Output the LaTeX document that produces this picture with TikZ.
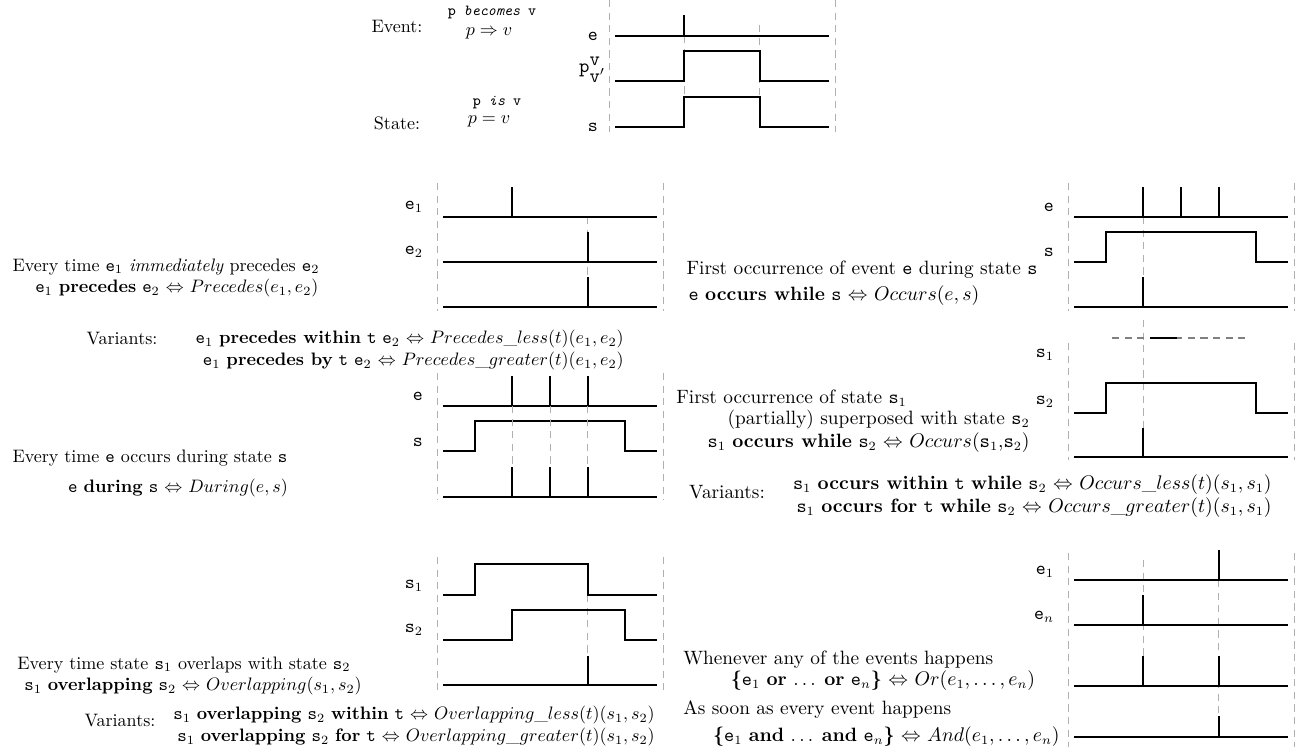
\documentclass[tikz,border=0pt]{standalone}
\usepackage{tikz}
\usetikzlibrary{positioning}
\definecolor{guidegray}{HTML}{B0B0B0}
\definecolor{windowgray}{HTML}{808080}

\begin{document}
\begin{tikzpicture}[x=0.0195cm, y=-0.0195cm,
    sig/.style={line width=1pt},
    guide/.style={guidegray, line width=0.5pt, dash pattern=on 4pt off 3pt},
    lbl/.style={anchor=east, inner sep=1pt, font=\fontsize{10.5}{12.6}\selectfont},
    txt/.style={inner sep=0pt, font=\fontsize{10}{12.2}\selectfont},
    txtr/.style={inner sep=0pt, font=\fontsize{10.7}{12.6}\selectfont}]
  \useasboundingbox (0,0) rectangle (1311,749);

  % legend: event and state
  \node[txt] (evt) at (397,26) {Event:};
  \node[txt, font=\fontsize{8.5}{10}\selectfont] (evtp) at (492,13) {\texttt{p \textit{becomes} v}};
  \node[txt] (evtm) at (489,33) {$p \Rightarrow v$};
  \node[txt] (st) at (397,123) {State:};
  \node[txt, font=\fontsize{8.5}{10}\selectfont] (stp) at (497,103) {\texttt{p \textit{is} v}};
  \node[txt] (stm) at (489,121) {$p = v$};
  \begin{scope}[shift={(609,0)}]
    \draw[guide] (0,0) -- (0,132) (226,0) -- (226,132);
    \draw[guide] (75.3,36) -- (75.3,127) (150.7,25) -- (150.7,127);
    \draw[sig] (6,36) -- (220,36) (75.3,36) -- (75.3,15);
    \draw[sig] (6,81) -- (75.3,81) -- (75.3,51) -- (150.7,51) -- (150.7,81) -- (220,81);
    \draw[sig] (6,127) -- (75.3,127) -- (75.3,97) -- (150.7,97) -- (150.7,127) -- (220,127);
    \node[lbl] (le) at (-9,36) {\texttt{e}};
    \node[lbl] (lp) at (-1,70) {$\mathtt{p}^{\textstyle\mathtt{v}}_{\textstyle\mathtt{v}'}$};
    \node[lbl] (ls) at (-9,127) {\texttt{s}};
  \end{scope}

  % precedes
  \begin{scope}[shift={(437,0)}]
    \draw[guide] (0,183) -- (0,311) (226,183) -- (226,311);
    \draw[guide] (150.7,217) -- (150.7,307);
    \draw[sig] (6,217) -- (220,217) (75.3,217) -- (75.3,187);
    \draw[sig] (6,262) -- (220,262) (150.7,262) -- (150.7,232);
    \draw[sig] (6,307) -- (220,307) (150.7,307) -- (150.7,277);
    \node[lbl] (pe1) at (-12,207) {\texttt{e}$_1$};
    \node[lbl] (pe2) at (-12,252) {\texttt{e}$_2$};
  \end{scope}
  \node[txt, align=center] (prec) at (166,278)
    {Every time \texttt{e}$_1$ \textit{immediately} precedes \texttt{e}$_2$\\
     \hspace*{1.2em}\texttt{e}$_1$ \textbf{precedes} \texttt{e}$_2$ $\Leftrightarrow$ $Precedes(e_1, e_2)$};
  \node[txt, align=right, anchor=east] (precv) at (624,350)
    {\texttt{e}$_1$ \textbf{precedes within} \texttt{t} \texttt{e}$_2$ $\Leftrightarrow$ $Precedes\_less(t)(e_1, e_2)$\\
     \texttt{e}$_1$ \textbf{precedes by} \texttt{t} \texttt{e}$_2$ $\Leftrightarrow$ $Precedes\_greater(t)(e_1, e_2)$};
  \node[txt] (precvl) at (122,339) {Variants:};

  % occurs (event while state)
  \begin{scope}[shift={(1068,0)}]
    \draw[guide] (0,183) -- (0,311) (226,183) -- (226,311);
    \draw[guide] (75.3,217) -- (75.3,307);
    \draw[sig] (6,217) -- (220,217);
    \foreach \t in {75.3,113,150.7}
      \draw[sig] (\t,217) -- (\t,187);
    \draw[sig] (6,262) -- (37.7,262) -- (37.7,232) -- (188.3,232) -- (188.3,262) -- (220,262);
    \draw[sig] (6,307) -- (220,307) (75.3,307) -- (75.3,277);
    \node[lbl] (oe) at (-12,207) {\texttt{e}};
    \node[lbl] (os) at (-12,252) {\texttt{s}};
  \end{scope}
  \node[txtr] (occ1) at (862,270) {First occurrence of event \texttt{e} during state \texttt{s}};
  \node[txtr] (occ2) at (834,296) {\texttt{e} \textbf{occurs while} \texttt{s} $\Leftrightarrow$ $Occurs(e, s)$};

  % during
  \begin{scope}[shift={(437,0)}]
    \draw[guide] (0,373) -- (0,500) (226,373) -- (226,500);
    \draw[sig] (6,406) -- (220,406);
    \draw[sig] (6,451) -- (37.7,451) -- (37.7,421) -- (188.3,421) -- (188.3,451) -- (220,451);
    \draw[sig] (6,497) -- (220,497);
    \foreach \t in {75.3,113,150.7} {
      \draw[guide] (\t,406) -- (\t,497);
      \draw[sig] (\t,406) -- (\t,376) (\t,497) -- (\t,467);
    }
    \node[lbl] (de) at (-12,396) {\texttt{e}};
    \node[lbl] (ds) at (-12,442) {\texttt{s}};
  \end{scope}
  \node[txt] (dur1) at (150,458) {Every time \texttt{e} occurs during state \texttt{s}};
  \node[txt] (dur2) at (178,488) {\texttt{e} \textbf{during} \texttt{s} $\Leftrightarrow$ $During(e, s)$};

  % occurs (state while state)
  \begin{scope}[shift={(1068,0)}]
    \draw[guide] (0,343) -- (0,460) (226,343) -- (226,460);
    \draw[guide] (75.3,320) -- (75.3,457);
    \draw[windowgray, line width=0.7pt, dash pattern=on 4pt off 3pt] (44,338) -- (179,338);
    \draw[sig] (82,338) -- (109,338);
    \draw[sig] (6,413) -- (37.7,413) -- (37.7,383) -- (188.3,383) -- (188.3,413) -- (220,413);
    \draw[sig] (6,457) -- (220,457) (75.3,457) -- (75.3,428);
    \node[lbl] (ss1) at (-12,355) {\texttt{s}$_1$};
    \node[lbl] (ss2) at (-12,402) {\texttt{s}$_2$};
  \end{scope}
  \node[txtr, anchor=west] (occs1) at (676,398) {First occurrence of state \texttt{s}$_1$};
  \node[txtr, align=right, anchor=east] (occs) at (1030,431)
    {(partially) superposed with state \texttt{s}$_2$\\
     \texttt{s}$_1$ \textbf{occurs while} \texttt{s}$_2$ $\Leftrightarrow$ $Occurs(\mathtt{s}_1$,$\mathtt{s}_2)$};
  \node[txtr, align=right, anchor=east] (occsv) at (1272,496)
    {\texttt{s}$_1$ \textbf{occurs within} \texttt{t} \textbf{while} \texttt{s}$_2$ $\Leftrightarrow$ $Occurs\_less(t)(s_1, s_1)$\\
     \texttt{s}$_1$ \textbf{occurs for} \texttt{t} \textbf{while} \texttt{s}$_2$ $\Leftrightarrow$ $Occurs\_greater(t)(s_1, s_1)$};
  \node[txtr] (occsvl) at (727,492) {Variants:};

  % overlapping
  \begin{scope}[shift={(437,0)}]
    \draw[guide] (0,557) -- (0,690) (226,557) -- (226,690);
    \draw[guide] (150.7,595) -- (150.7,685);
    \draw[sig] (6,595) -- (37.7,595) -- (37.7,564) -- (150.7,564) -- (150.7,595) -- (220,595);
    \draw[sig] (6,640) -- (75.3,640) -- (75.3,610) -- (188.3,610) -- (188.3,640) -- (220,640);
    \draw[sig] (6,685) -- (220,685) (150.7,685) -- (150.7,656);
    \node[lbl] (vs1) at (-12,586) {\texttt{s}$_1$};
    \node[lbl] (vs2) at (-12,630) {\texttt{s}$_2$};
  \end{scope}
  \node[txt, align=center] (ovl) at (184,676)
    {Every time state \texttt{s}$_1$ overlaps with state \texttt{s}$_2$\\
     \hspace*{1em}\texttt{s}$_1$ \textbf{overlapping} \texttt{s}$_2$ $\Leftrightarrow$ $Overlapping(s_1, s_2)$};
  \node[txt, align=right, anchor=east] (ovlv) at (655,726)
    {\texttt{s}$_1$ \textbf{overlapping} \texttt{s}$_2$ \textbf{within} \texttt{t} $\Leftrightarrow$ $Overlapping\_less(t)(s_1, s_2)$\\
     \texttt{s}$_1$ \textbf{overlapping} \texttt{s}$_2$ \textbf{for} \texttt{t} $\Leftrightarrow$ $Overlapping\_greater(t)(s_1, s_2)$};
  \node[txt] (ovlvl) at (120,721) {Variants:};

  % or / and
  \begin{scope}[shift={(1068,0)}]
    \draw[guide] (0,553) -- (0,747) (226,553) -- (226,747);
    \draw[guide] (75.3,560) -- (75.3,686) (150.7,580) -- (150.7,737);
    \draw[sig] (6,580) -- (220,580) (150.7,580) -- (150.7,550);
    \draw[sig] (6,625) -- (220,625) (75.3,625) -- (75.3,595);
    \draw[sig] (6,686) -- (220,686);
    \foreach \t in {75.3,150.7}
      \draw[sig] (\t,686) -- (\t,656);
    \draw[sig] (6,737) -- (220,737) (150.7,737) -- (150.7,716);
    \node[lbl] (ae1) at (-12,572) {\texttt{e}$_1$};
    \node[lbl] (aen) at (-12,617) {\texttt{e}$_n$};
  \end{scope}
  \node[txtr, anchor=west] (or1) at (683,660) {Whenever any of the events happens};
  \node[txtr] (or2) at (883,681) {\textbf{\{}\texttt{e}$_1$ \textbf{or} .\,.\,. \textbf{or} \texttt{e}$_n$\textbf{\}} $\Leftrightarrow$ $Or(e_1, \ldots, e_n)$};
  \node[txtr, anchor=west] (and1) at (683,710) {As soon as every event happens};
  \node[txtr, anchor=east] (and2) at (1060,737) {\textbf{\{}\texttt{e}$_1$ \textbf{and} .\,.\,. \textbf{and} \texttt{e}$_n$\textbf{\}} $\Leftrightarrow$ $And(e_1, \ldots, e_n)$};
\end{tikzpicture}
\end{document}
